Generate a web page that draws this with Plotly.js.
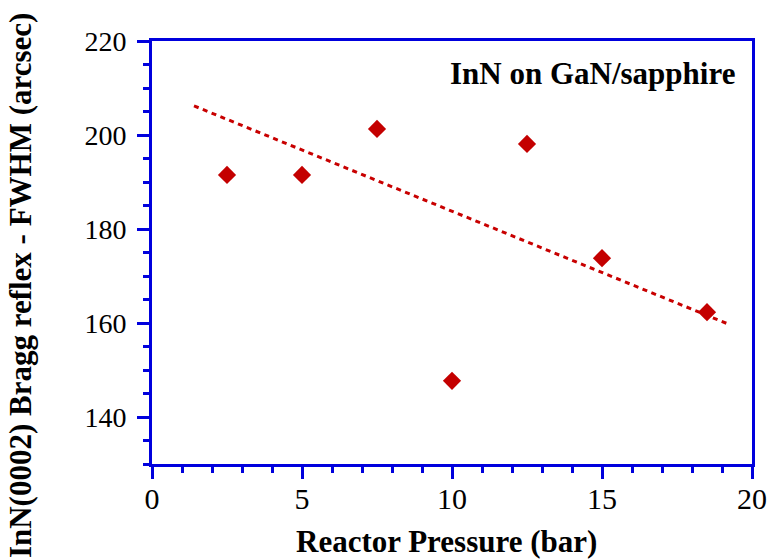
<!DOCTYPE html>
<html>
<head>
<meta charset="utf-8">
<script src="https://cdn.plot.ly/plotly-3.0.1.min.js"></script>
<style>html,body{margin:0;padding:0;background:#fff;}</style>
</head>
<body>
<div id="chart"></div>
<script>
const pressure = [2.5, 5, 7.5, 10, 12.5, 15, 18.5];
const fwhm = [191.5, 191.5, 201.3, 147.7, 198.1, 173.8, 162.3];
const trendX = [1.4, 19.2];
const trendY = [206.2, 159.8];
const xTickVals = [0, 5, 10, 15, 20];
const yTickVals = [140, 160, 180, 200, 220];
const xTitle = '<b>Reactor Pressure (bar)</b>';
const yTitle = '<b>InN(0002) Bragg reflex - FWHM (arcsec)</b>';
const insetLabel = '<b>InN on GaN/sapphire</b>';

const frameBlue = '#0000dd';
const serifFamily = 'Liberation Serif';

const traces = [
  {x: trendX, y: trendY, mode: 'lines', line: {color: '#c80000', width: 3, dash: '5px,4.5px'}, hoverinfo: 'skip', showlegend: false},
  {x: pressure, y: fwhm, mode: 'markers', marker: {symbol: 'diamond', size: 14, color: '#c40000', line: {width: 0}}, showlegend: false}
];

const layout = {
  width: 767, height: 560,
  margin: {l: 152, r: 15, t: 41, b: 96},
  paper_bgcolor: '#fff', plot_bgcolor: '#fff',
  font: {family: serifFamily, size: 28, color: '#000'},
  xaxis: {
    showgrid: false, zeroline: false, showline: true, mirror: true,
    linecolor: frameBlue, linewidth: 3,
    ticks: 'outside', ticklen: 12, tickwidth: 3, tickcolor: frameBlue,
    tickfont: {family: serifFamily, size: 30, color: '#000'}, ticklabelstandoff: -6,
    range: [0, 20], tickvals: xTickVals,
    minor: {dtick: 1, ticks: 'outside', ticklen: 6, tickwidth: 3, tickcolor: frameBlue}
  },
  yaxis: {
    showgrid: false, zeroline: false, showline: true, mirror: true,
    linecolor: frameBlue, linewidth: 3,
    ticks: 'outside', ticklen: 12, tickwidth: 3, tickcolor: frameBlue,
    tickfont: {family: serifFamily, size: 28, color: '#000'}, ticklabelstandoff: 5,
    range: [130, 220], tickvals: yTickVals,
    minor: {dtick: 5, ticks: 'outside', ticklen: 6, tickwidth: 3, tickcolor: frameBlue}
  },
  annotations: [
    {xref: 'paper', yref: 'paper', x: 0.49, y: -0.184, xanchor: 'center', yanchor: 'middle',
     text: xTitle, showarrow: false, font: {family: serifFamily, size: 31, color: '#000'}},
    {xref: 'paper', yref: 'paper', x: -0.22, y: 0.423, xanchor: 'center', yanchor: 'middle',
     text: yTitle, textangle: -90, showarrow: false, font: {family: serifFamily, size: 31, color: '#000'}},
    {xref: 'paper', yref: 'paper', x: 0.975, y: 0.924, xanchor: 'right', yanchor: 'middle',
     text: insetLabel, showarrow: false, font: {family: serifFamily, size: 31, color: '#000'}}
  ]
};

Plotly.newPlot('chart', traces, layout, {displayModeBar: false});
</script>
</body>
</html>
